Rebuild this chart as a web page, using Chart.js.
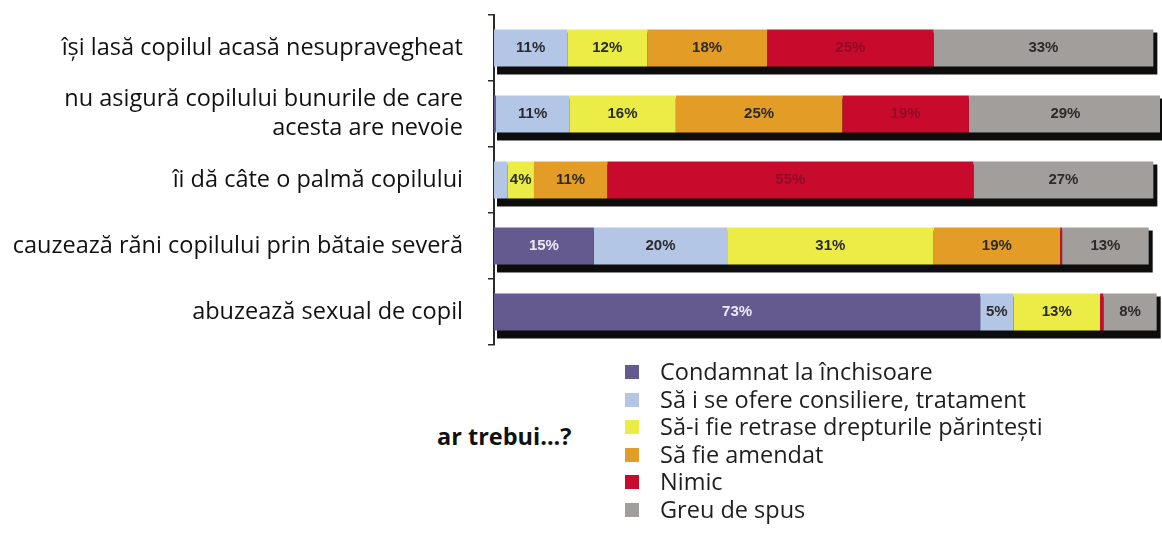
<!DOCTYPE html>
<html lang="ro">
<head>
<meta charset="utf-8">
<title>ar trebui...?</title>
<script src="https://cdn.jsdelivr.net/npm/chart.js@4/dist/chart.umd.min.js"></script>
<style>
  html, body { margin: 0; padding: 0; background: #fff; }
  body { width: 1162px; height: 536px; position: relative; overflow: hidden; font-family: 'Open Sans', sans-serif; }
  #wrap { position: absolute; left: 0; top: 0; width: 1162px; height: 360px; }
  #question { position: absolute; left: 437px; top: 419px; font-weight: 700; font-size: 23.5px; color: #111; line-height: 34px; }
  #legend { position: absolute; left: 625px; top: 358px; margin: 0; padding: 0; list-style: none; }
  #legend li { height: 27.6px; line-height: 27.6px; font-size: 23.5px; color: #1e1e1e; white-space: nowrap; position: relative; padding-left: 35px; }
  #legend li span { position: absolute; left: 0; top: 7px; width: 14px; height: 14px; }
</style>
</head>
<body>
<div id="wrap"><canvas id="severityChart"></canvas></div>
<div id="question">ar trebui...?</div>
<ul id="legend"></ul>

<script>
// ── categories (rows, top to bottom) ──
const situations = [
  'își lasă copilul acasă nesupravegheat',
  ['nu asigură copilului bunurile de care', 'acesta are nevoie'],
  'îi dă câte o palmă copilului',
  'cauzează răni copilului prin bătaie severă',
  'abuzează sexual de copil',
];

// ── answers (series) ──
const answers = [
  'Condamnat la închisoare',
  'Să i se ofere consiliere, tratament',
  'Să-i fie retrase drepturile părintești',
  'Să fie amendat',
  'Nimic',
  'Greu de spus',
];
const answerColors = ['#655a90', '#b4c6e6', '#ecec46', '#e39c26', '#c80a2c', '#a19e9c'];
const labelColors  = ['#ecebf3', '#2b2b2b', '#2b2b2b', '#2b2b2b', '#920c26', '#2b2b2b'];

// ── percentages per answer, one value per row ──
const prison    = [0,  0.3, 0,  15, 73];
const therapy   = [11, 11,  2,  20, 5];
const custody   = [12, 16,  4,  31, 13];
const fine      = [18, 25,  11, 19, 0];
const nothing   = [25, 19,  55, 0.3, 0.5];
const dontKnow  = [33, 29,  27, 13, 8];

const series = [prison, therapy, custody, fine, nothing, dontKnow];
const MIN_LABEL = 3;

// black drop edge under and right of each stacked row
const rowShadow = {
  id: 'rowShadow',
  beforeDatasetsDraw(chart) {
    const { ctx, scales: { x } } = chart;
    const meta = chart.getDatasetMeta(0);
    ctx.save();
    ctx.fillStyle = '#0d0d0d';
    meta.data.forEach((bar, i) => {
      const total = series.reduce((s, d) => s + d[i], 0);
      const x0 = x.getPixelForValue(0);
      const x1 = Math.min(x.getPixelForValue(total), chart.chartArea.right);
      const top = bar.y - bar.height / 2;
      const bottom = bar.y + bar.height / 2;
      ctx.fillRect(x0 + 3, top + 3, x1 - x0 + 1, bottom - top + 5);
    });
    ctx.restore();
  },
};

// percentage text centred in each segment
const segmentLabels = {
  id: 'segmentLabels',
  afterDatasetsDraw(chart) {
    const { ctx } = chart;
    ctx.save();
    ctx.font = 'bold 15px "Liberation Sans Narrow", "Liberation Sans", Arial, sans-serif';
    ctx.textAlign = 'center';
    ctx.textBaseline = 'middle';
    chart.data.datasets.forEach((ds, d) => {
      chart.getDatasetMeta(d).data.forEach((bar, i) => {
        const v = ds.data[i];
        if (v < MIN_LABEL) return;
        const cx = (bar.x + bar.base) / 2;
        ctx.fillStyle = labelColors[d];
        ctx.fillText(v + '%', cx, bar.y);
      });
    });
    ctx.restore();
  },
};

new Chart(document.getElementById('severityChart'), {
  type: 'bar',
  data: {
    labels: situations,
    datasets: answers.map((name, d) => ({
      label:              name,
      data:               series[d],
      backgroundColor:    answerColors[d],
      borderWidth:        0,
      barPercentage:      0.56,
      categoryPercentage: 1,
    })),
  },
  options: {
    indexAxis: 'y',
    responsive: true,
    maintainAspectRatio: false,
    animation: false,
    layout: { padding: { top: 15, bottom: 15, left: 8, right: 2 } },
    plugins: {
      legend:  { display: false },
      tooltip: { enabled: false },
    },
    scales: {
      x: { stacked: true, min: 0, max: 100, display: false },
      y: {
        stacked: true,
        afterFit: (scale) => {
          scale.width = 486;
          scale.paddingTop = 0;
          scale.paddingBottom = 0;
        },
        border: { display: true, color: '#2a2a2a', width: 2 },
        grid: {
          drawOnChartArea: false,
          drawTicks: true,
          tickLength: 6,
          color: '#2a2a2a',
          lineWidth: 1.5,
          offset: true,
        },
        ticks: {
          padding: 25,
          color: '#111',
          font: { family: "'Open Sans', sans-serif", size: 23.5, lineHeight: 1.25 },
        },
      },
    },
  },
  plugins: [rowShadow, segmentLabels],
});

// legend list under the chart
const legend = document.getElementById('legend');
answers.forEach((name, d) => {
  const li = document.createElement('li');
  const sw = document.createElement('span');
  sw.style.background = answerColors[d];
  li.appendChild(sw);
  li.appendChild(document.createTextNode(name));
  legend.appendChild(li);
});
</script>
</body>
</html>
